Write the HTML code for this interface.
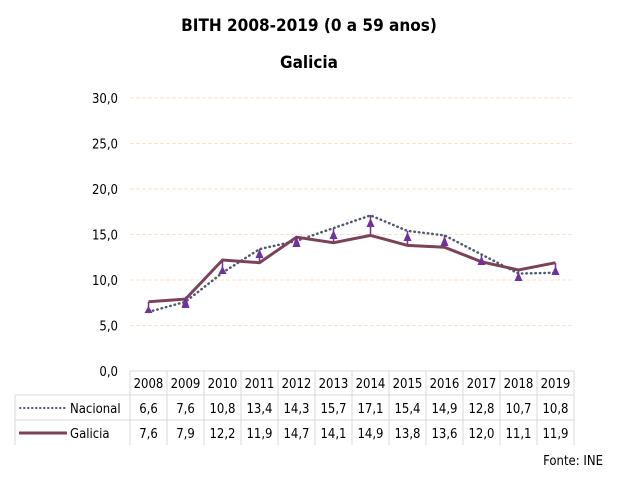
<!DOCTYPE html>
<html><head><meta charset="utf-8"><style>
body{margin:0;background:#fff;width:619px;height:475px;overflow:hidden}
</style></head><body>
<svg width="619" height="475" xmlns="http://www.w3.org/2000/svg" font-family="'DejaVu Sans Condensed','Liberation Sans',sans-serif">
<text x="309" y="31" text-anchor="middle" font-size="17" font-weight="bold" fill="#000">BITH 2008-2019 (0 a 59 anos)</text>
<text x="309" y="68" text-anchor="middle" font-size="17" font-weight="bold" fill="#000">Galicia</text>
<g stroke="#fbe0cc" stroke-width="1" stroke-dasharray="4,2">
<line x1="130" x2="574" y1="98" y2="98"/><line x1="130" x2="574" y1="143.5" y2="143.5"/>
<line x1="130" x2="574" y1="189" y2="189"/><line x1="130" x2="574" y1="234.5" y2="234.5"/>
<line x1="130" x2="574" y1="280" y2="280"/><line x1="130" x2="574" y1="325.5" y2="325.5"/>
</g>
<g font-size="13" fill="#000" text-anchor="end">
<text x="118" y="103">30,0</text><text x="118" y="148.5">25,0</text><text x="118" y="194">20,0</text>
<text x="118" y="239.5">15,0</text><text x="118" y="285">10,0</text><text x="118" y="330.5">5,0</text><text x="118" y="376">0,0</text>
</g>
<g stroke="#7030a0" stroke-width="1.5">
<line x1="148.5" y1="312" x2="148.5" y2="302"/><line x1="185.5" y1="302" x2="185.5" y2="299"/>
<line x1="222.5" y1="273" x2="222.5" y2="260"/><line x1="259.5" y1="249" x2="259.5" y2="263"/>
<line x1="296.5" y1="241" x2="296.5" y2="237"/><line x1="333.5" y1="228" x2="333.5" y2="243"/>
<line x1="370.5" y1="215" x2="370.5" y2="235"/><line x1="407.5" y1="231" x2="407.5" y2="245"/>
<line x1="444.5" y1="235" x2="444.5" y2="247"/><line x1="481.5" y1="254" x2="481.5" y2="262"/>
<line x1="518.5" y1="274" x2="518.5" y2="270"/><line x1="555.5" y1="273" x2="555.5" y2="263"/>
</g>
<polyline fill="none" stroke="#505a6e" stroke-width="2.5" stroke-dasharray="0.5,4" stroke-linecap="round" points="148.5,311.9 185.5,301.8 222.5,272.7 259.5,249.1 296.5,240.9 333.5,228.1 370.5,215.4 407.5,230.9 444.5,235.4 481.5,254.5 518.5,273.6 555.5,272.7"/>
<polyline fill="none" stroke="#7b4258" stroke-width="3" points="148.5,301.8 185.5,299.1 222.5,260 259.5,262.7 296.5,237.2 333.5,242.7 370.5,235.4 407.5,245.4 444.5,247.2 481.5,261.8 518.5,270 555.5,262.7"/>
<g fill="#7030a0">
<polygon points="148.5,306 144.5,313 152.5,313"/><polygon points="185.5,296 181.5,308 189.5,308"/>
<polygon points="222.5,266 218.5,274 226.5,274"/><polygon points="259.5,249 255.5,258 263.5,258"/>
<polygon points="296.5,236 292.5,247 300.5,247"/><polygon points="333.5,230 329.5,239 337.5,239"/>
<polygon points="370.5,218 366.5,227 374.5,227"/><polygon points="407.5,232 403.5,241 411.5,241"/>
<polygon points="444.5,236 440.5,246 448.5,246"/><polygon points="481.5,256 477.5,265 485.5,265"/>
<polygon points="518.5,272 514.5,281 522.5,281"/><polygon points="555.5,266 551.5,275 559.5,275"/>
</g>
<g stroke="#d9d9d9" stroke-width="1" fill="none">
<line x1="130" y1="371" x2="130" y2="445"/>
<line x1="15" y1="395" x2="574" y2="395"/><line x1="15" y1="420" x2="574" y2="420"/>
<line x1="15" y1="395" x2="15" y2="445"/>
<line x1="167" y1="371" x2="167" y2="445"/><line x1="204" y1="371" x2="204" y2="445"/>
<line x1="241" y1="371" x2="241" y2="445"/><line x1="278" y1="371" x2="278" y2="445"/>
<line x1="315" y1="371" x2="315" y2="445"/><line x1="352" y1="371" x2="352" y2="445"/>
<line x1="389" y1="371" x2="389" y2="445"/><line x1="426" y1="371" x2="426" y2="445"/>
<line x1="463" y1="371" x2="463" y2="445"/><line x1="500" y1="371" x2="500" y2="445"/>
<line x1="537" y1="371" x2="537" y2="445"/><line x1="574" y1="371" x2="574" y2="445"/>
<line x1="130" y1="371" x2="574" y2="371"/>
</g>
<g font-size="13" fill="#000" text-anchor="middle">
<text x="148.5" y="388">2008</text><text x="185.5" y="388">2009</text><text x="222.5" y="388">2010</text><text x="259.5" y="388">2011</text><text x="296.5" y="388">2012</text><text x="333.5" y="388">2013</text><text x="370.5" y="388">2014</text><text x="407.5" y="388">2015</text><text x="444.5" y="388">2016</text><text x="481.5" y="388">2017</text><text x="518.5" y="388">2018</text><text x="555.5" y="388">2019</text>
<text x="148.5" y="413">6,6</text><text x="185.5" y="413">7,6</text><text x="222.5" y="413">10,8</text><text x="259.5" y="413">13,4</text><text x="296.5" y="413">14,3</text><text x="333.5" y="413">15,7</text><text x="370.5" y="413">17,1</text><text x="407.5" y="413">15,4</text><text x="444.5" y="413">14,9</text><text x="481.5" y="413">12,8</text><text x="518.5" y="413">10,7</text><text x="555.5" y="413">10,8</text>
<text x="148.5" y="438">7,6</text><text x="185.5" y="438">7,9</text><text x="222.5" y="438">12,2</text><text x="259.5" y="438">11,9</text><text x="296.5" y="438">14,7</text><text x="333.5" y="438">14,1</text><text x="370.5" y="438">14,9</text><text x="407.5" y="438">13,8</text><text x="444.5" y="438">13,6</text><text x="481.5" y="438">12,0</text><text x="518.5" y="438">11,1</text><text x="555.5" y="438">11,9</text>
</g>
<line x1="20" y1="408" x2="66" y2="408" stroke="#505a6e" stroke-width="2" stroke-dasharray="0.5,3.5" stroke-linecap="round"/>
<line x1="19" y1="433" x2="67" y2="433" stroke="#7b4258" stroke-width="3"/>
<text x="70" y="413" font-size="13">Nacional</text>
<text x="70" y="438" font-size="13">Galicia</text>
<text x="603" y="465" font-size="13" text-anchor="end">Fonte: INE</text>
</svg>
</body></html>
